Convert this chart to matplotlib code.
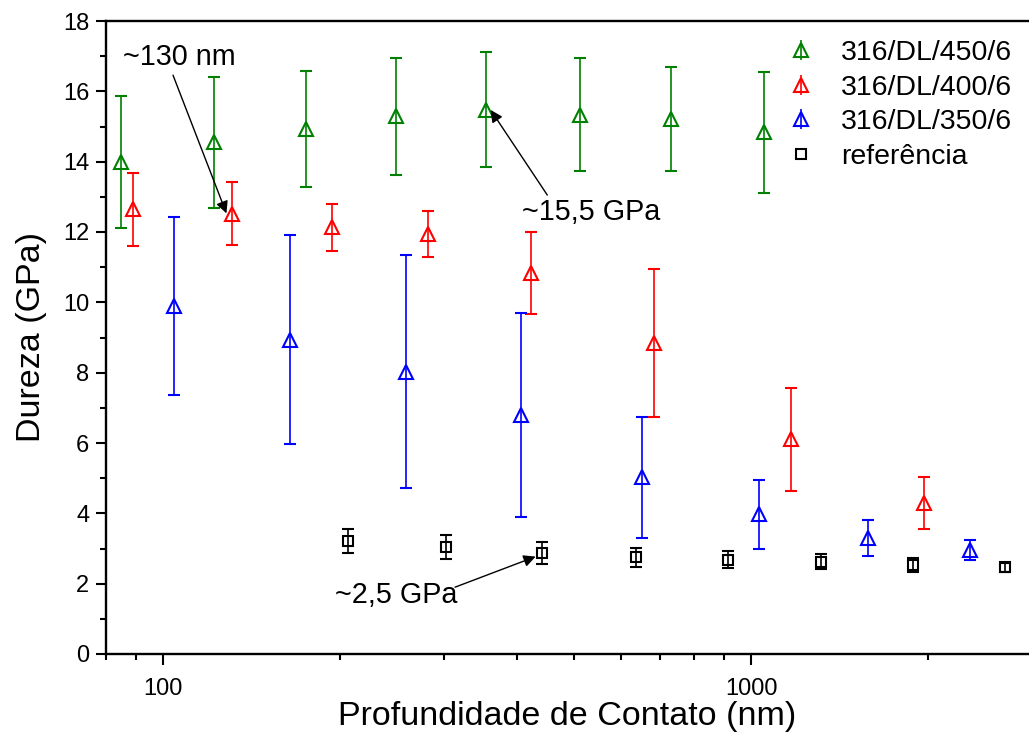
import matplotlib
matplotlib.use("Agg")
import matplotlib.pyplot as plt
from matplotlib.lines import Line2D
from matplotlib.legend_handler import HandlerTuple
from matplotlib.ticker import LogLocator, FixedLocator, NullFormatter, MultipleLocator

plt.rcParams['font.family'] = ['Liberation Sans', 'DejaVu Sans']

# ---- data ----
labels = ["316/DL/450/6", "316/DL/400/6", "316/DL/350/6", "referência"]

x450 = [84.7, 122, 175, 249, 354, 511, 730, 1052]
y450 = [13.99, 14.55, 14.93, 15.29, 15.48, 15.34, 15.21, 14.83]
e450 = [1.89, 1.86, 1.64, 1.67, 1.63, 1.60, 1.47, 1.72]

x400 = [88.9, 131.2, 193.8, 282, 423, 684, 1171, 1971]
y400 = [12.65, 12.52, 12.13, 11.95, 10.84, 8.85, 6.10, 4.29]
e400 = [1.04, 0.89, 0.66, 0.66, 1.17, 2.10, 1.47, 0.74]

x350 = [104.5, 164.6, 258.6, 405.8, 652, 1032, 1583, 2357]
y350 = [9.90, 8.94, 8.03, 6.80, 5.02, 3.97, 3.30, 2.96]
e350 = [2.53, 2.97, 3.32, 2.90, 1.72, 0.97, 0.51, 0.29]

xref = [206.7, 302.6, 441.6, 638, 915, 1314, 1886, 2700]
yref = [3.21, 3.04, 2.87, 2.75, 2.68, 2.62, 2.54, 2.46]
eref = [0.35, 0.33, 0.31, 0.27, 0.24, 0.21, 0.20, 0.12]

colors = ["#008000", "#ff0000", "#0000ff", "#000000"]

fig = plt.figure(figsize=(10.29, 7.42), dpi=100)
ax = fig.add_axes([106/1029, 1-654/742, 1-106/1029, (654-21)/742])

series = [(x450, y450, e450, '^', 9.8), (x400, y400, e400, '^', 9.8),
          (x350, y350, e350, '^', 9.8), (xref, yref, eref, 's', 7.2)]
for (xs, ys, es, mk, ms), c in zip(series, colors):
    ax.errorbar(xs, ys, yerr=es, fmt=mk, ms=ms, mfc='none', mec=c, mew=1.5,
                ecolor=c, elinewidth=1.2, capsize=4.3, capthick=1.2, ls='none')

ax.set_xscale('log')
ax.set_xlim(80, 2970)
ax.set_ylim(0, 18)

ax.xaxis.set_major_locator(FixedLocator([100, 1000]))
ax.xaxis.set_minor_locator(LogLocator(base=10, subs=[2, 3, 4, 5, 6, 7, 8, 9]))
ax.xaxis.set_minor_formatter(NullFormatter())
ax.set_xticklabels(['100', '1000'])
ax.yaxis.set_major_locator(MultipleLocator(2))
ax.yaxis.set_minor_locator(MultipleLocator(1))

for s in ['left', 'bottom', 'top']:
    ax.spines[s].set_linewidth(1.7)
ax.spines['right'].set_visible(False)
ax.tick_params(which='major', direction='out', length=7, width=1.5, labelsize=17, pad=5)
ax.tick_params(which='minor', direction='out', length=4, width=1.5)
ax.tick_params(axis='x', which='major', length=8, pad=9)
ax.tick_params(top=False, right=False, which='both')

ax.set_xlabel('Profundidade de Contato (nm)', fontsize=24.5)
ax.set_ylabel('Dureza (GPa)', fontsize=24.5)
ax.xaxis.set_label_coords(0.5, -0.075)
ax.yaxis.set_label_coords(-0.064, 0.5)

# annotations
arrow = dict(arrowstyle='-|>', color='k', lw=1.0, mutation_scale=18, shrinkA=0, shrinkB=0)
ax.text(85.5, 16.98, '~130 nm', fontsize=20.7, va='center', ha='left')
ax.annotate('', xy=(128.2, 12.53), xytext=(104, 16.46), arrowprops=arrow)
ax.text(407.4, 12.58, '~15,5 GPa', fontsize=20.7, va='center', ha='left')
ax.annotate('', xy=(360.8, 15.47), xytext=(450.4, 13.05), arrowprops=arrow)
ax.text(196.1, 1.68, '~2,5 GPa', fontsize=20.7, va='center', ha='left')
ax.annotate('', xy=(430.3, 2.77), xytext=(313.8, 1.90), arrowprops=arrow)

# legend
handles = []
for i, c in enumerate(colors):
    if i < 3:
        h = (Line2D([], [], marker='|', color=c, ms=14, mew=1.2, ls='none'),
             Line2D([], [], marker='^', mfc='none', mec=c, mew=1.5, ms=9.8, ls='none'))
    else:
        h = Line2D([], [], marker='s', mfc='none', mec=c, mew=1.5, ms=7.2, ls='none')
    handles.append(h)
leg = ax.legend(handles, labels, loc='upper left', bbox_to_anchor=(767/1029, 1-26/742),
                bbox_transform=fig.transFigure, frameon=False, fontsize=20.5,
                handler_map={tuple: HandlerTuple(ndivide=1)},
                handlelength=1.4, handletextpad=0.7, labelspacing=0.3, borderpad=0)

fig.savefig('out.png', dpi=100)
